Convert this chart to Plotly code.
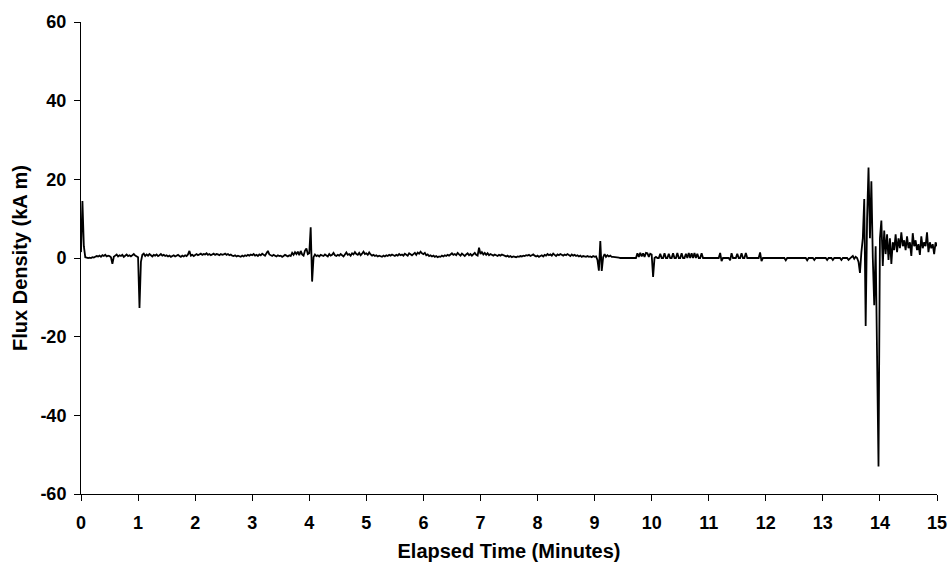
import plotly.graph_objects as go

# Sampling interval (minutes) and the flux density series, one row per half minute
sample_step_min = 0.025

flux_rows = [
    [1.5, 14.5, 3.0, 0.2, 0.1, 0.0, 0.1, 0.0, 0.2, 0.1, 0.3, 0.5, 0.4, 0.6, 0.3, 0.7, 0.5, 0.8, 0.4, 0.6],
    [0.5, 0.2, -1.5, 0.3, 0.6, 0.9, 0.4, 0.7, 0.5, 0.8, 0.3, 0.6, 0.9, 0.5, 0.7, 0.4, 0.8, 1.0, 0.6, 0.3],
    [0.2, -12.7, -1.0, 0.8, 1.1, 0.5, 0.9, 0.6, 1.0, 0.7, 0.4, 0.8, 0.6, 0.9, 0.5, 0.7, 1.0, 0.6, 0.8, 0.5],
    [0.7, 0.4, 0.6, 0.3, 0.5, 0.7, 0.4, 0.6, 0.8, 0.5, 0.3, 0.6, 0.4, 0.7, 0.5, 0.9, 1.8, 0.6, 0.8, 0.5],
    [0.8, 1.0, 0.7, 0.9, 1.1, 0.8, 1.0, 0.9, 1.2, 0.8, 1.0, 0.7, 0.9, 1.1, 0.8, 1.0, 0.9, 0.7, 1.0, 0.8],
    [0.9, 1.1, 0.8, 1.0, 0.7, 0.9, 0.6, 0.5, 0.7, 0.4, 0.6, 0.5, 0.3, 0.6, 0.4, 0.7, 0.5, 0.8, 0.6, 0.9],
    [0.7, 1.0, 0.6, 0.8, 0.5, 0.9, 0.7, 1.1, 0.8, 0.6, 1.2, 1.8, 0.9, 0.7, 0.5, 0.8, 0.6, 0.4, 0.7, 0.5],
    [0.6, 0.3, 0.5, 0.8, 0.6, 0.4, 0.7, 0.5, 1.3, 0.8, 1.5, 1.0, 1.6, 0.7, 1.8, 0.9, 0.6, 1.9, 2.4, 1.0],
    [1.2, 7.8, -6.0, 0.2, 0.9, 0.5, 0.7, 0.4, 0.8, 0.6, 0.5, 0.9, 0.7, 0.4, 1.0, 0.6, 0.8, 1.3, 0.7, 0.5],
    [0.8, 0.6, 1.0, 0.7, 0.4, 0.9, 1.4, 0.8, 1.0, 0.6, 1.2, 0.9, 1.5, 1.0, 0.8, 1.3, 0.7, 1.1, 1.6, 1.0],
    [1.2, 0.8, 1.4, 0.9, 0.6, 0.8, 0.5, 0.7, 0.4, 0.6, 0.5, 0.3, 0.6, 0.4, 0.7, 0.5, 0.8, 0.6, 0.9, 0.7],
    [0.5, 0.8, 0.6, 1.0, 0.7, 0.9, 0.6, 1.1, 0.8, 0.6, 1.2, 0.9, 0.7, 1.0, 1.3, 0.8, 1.4, 1.1, 1.6, 1.2],
    [1.0, 1.3, 0.7, 0.9, 0.5, 0.7, 0.4, 0.6, 0.3, 0.5, 0.2, 0.4, 0.3, 0.6, 0.4, 0.7, 0.5, 0.8, 0.6, 0.9],
    [1.2, 0.8, 1.0, 0.7, 1.3, 0.9, 0.6, 1.1, 0.8, 0.5, 0.9, 1.2, 0.7, 1.0, 0.6, 0.9, 1.3, 0.8, 0.6, 2.6],
    [1.0, 1.5, 0.9, 1.3, 0.8, 1.2, 0.7, 1.0, 0.8, 0.6, 0.9, 0.7, 0.5, 0.8, 0.6, 0.9, 0.7, 0.5, 0.4, 0.6],
    [0.3, 0.5, 0.2, 0.4, 0.3, 0.2, 0.4, 0.3, 0.5, 0.4, 0.6, 0.5, 0.7, 0.6, 0.8, 0.5, 0.7, 0.9, 0.6, 0.4],
    [0.6, 0.3, 0.5, 0.7, 0.4, 0.8, 0.6, 1.0, 0.7, 0.9, 0.6, 1.1, 0.8, 0.5, 0.9, 0.7, 1.0, 0.8, 0.6, 0.9],
    [0.7, 1.0, 0.8, 0.5, 0.9, 0.6, 0.8, 0.5, 0.7, 0.4, 0.6, 0.3, 0.5, 0.4, 0.3, 0.5, 0.3, 0.4, 0.2, 0.5],
    [0.3, 0.4, -0.5, -3.2, 4.3, -3.3, 0.2, 1.0, 0.3, 0.7, 0.4, 0.6, 0.3, 0.3, 0.2, 0.2, 0.1, 0.1, 0.0, 0.0],
    [0.0, 0.0, 0.0, 0.0, 0.0, 0.0, 0.0, 0.0, 0.0, 0.0, 1.2, 0.3, 1.3, 0.4, 1.2, 0.3, 1.3, 1.2, 0.3, 1.1],
    [0.9, -4.8, 0.0, 0.3, 0.0, 0.0, 1.1, 0.0, 0.0, 1.2, 0.0, 0.0, 1.1, 0.0, 0.0, 1.2, 0.0, 0.0, 1.3, 0.0],
    [0.0, 1.2, 0.0, 0.0, 1.1, 0.0, 1.3, 0.0, 1.2, 0.0, 1.3, 0.0, 1.1, 0.0, 0.0, 1.2, 0.0, 0.0, 0.0, 0.0],
    [0.0, 0.0, 0.0, 0.0, 0.0, 0.0, 0.0, 0.0, 1.3, -0.8, 0.0, 0.0, 0.0, 0.0, 0.0, -0.6, 1.2, 0.0, 0.0, 0.0],
    [1.1, 0.0, 0.0, 1.2, 0.0, 0.0, 1.3, 0.0, 0.0, 0.0, 0.0, 0.0, 0.0, 0.0, 0.0, 0.0, 1.4, -0.8, 0.0, 0.0],
    [0.0, 0.0, 0.0, 0.0, 0.0, 0.0, 0.0, 0.0, 0.0, 0.0, 0.0, 0.0, 0.0, 0.0, -0.6, 0.0, 0.0, 0.0, 0.0, 0.0],
    [0.0, 0.0, 0.0, 0.0, 0.0, 0.0, 0.0, 0.0, 0.0, -0.6, 0.0, 0.0, 0.0, 0.0, -0.5, 0.0, 0.0, 0.0, 0.0, 0.0],
    [0.0, 0.0, 0.0, -0.5, 0.0, 0.0, 0.0, -0.5, 0.0, 0.0, 0.0, 0.0, 0.0, -0.5, 0.0, 0.0, 0.0, 0.0, -0.5, 0.0],
    [0.2, 0.5, -0.2, 0.3, 0.0, -1.0, -3.8, 1.5, 5.0, 15.0, -17.3, 10.0, 23.0, 5.0, 19.5, 0.0, -12.0, 3.0, -27.0, -53.0],
    [5.0, 9.5, -2.0, 7.0, 1.0, 6.0, -0.5, 5.0, -1.5, 4.0, 2.0, 6.0, 1.5, 5.0, 2.5, 6.5, 3.0, 4.5, 2.0, 5.5],
    [2.5, 4.0, 0.5, 6.3, 3.0, 4.5, 2.0, 3.5, 0.8, 5.5, 2.5, 4.0, 3.0, 6.5, 1.5, 4.0, 2.5, 3.5, 1.0, 4.0],
    [3.0],
]

x_tick_values = list(range(0, 16))
y_tick_values = [-60, -40, -20, 0, 20, 40, 60]
x_title = "Elapsed Time (Minutes)"
y_title = "Flux Density (kA m)"

flux_density = [v for row in flux_rows for v in row]
elapsed_min = [round(i * sample_step_min, 4) for i in range(len(flux_density))]

font_family = "Liberation Sans, Arial, sans-serif"

fig = go.Figure()
fig.add_trace(go.Scatter(
    x=elapsed_min, y=flux_density, mode="lines",
    line=dict(color="black", width=1.8),
    showlegend=False, hoverinfo="x+y",
))

fig.update_layout(
    width=948, height=562,
    margin=dict(l=81, r=11, t=22, b=68),
    paper_bgcolor="white", plot_bgcolor="white",
    font=dict(family=font_family, color="black"),
)
fig.update_xaxes(
    range=[0, 15], tickvals=x_tick_values, ticktext=[str(v) for v in x_tick_values],
    showline=True, linecolor="black", linewidth=1,
    ticks="outside", ticklen=6, tickcolor="black", tickwidth=1,
    showgrid=False, zeroline=False,
    ticklabelstandoff=6,
    tickfont=dict(size=18, family=font_family, weight="bold"),
    title=dict(text=x_title, font=dict(size=20, family=font_family, weight="bold"), standoff=14),
    automargin=False,
)
fig.update_yaxes(
    range=[-60, 60], tickvals=y_tick_values, ticktext=[str(v) for v in y_tick_values],
    showline=True, linecolor="black", linewidth=1,
    ticks="outside", ticklen=6, tickcolor="black", tickwidth=1,
    showgrid=False, zeroline=False,
    ticklabelstandoff=4,
    tickfont=dict(size=18, family=font_family, weight="bold"),
    title=dict(text=y_title, font=dict(size=20, family=font_family, weight="bold"), standoff=7),
    automargin=False,
)

# Remove the page's default body margin so the 948x562 figure fills the window exactly
fig.write_html(
    "out.html",
    config={"displayModeBar": False},
    post_script="document.body.style.margin='0';document.body.style.overflow='hidden';",
)
